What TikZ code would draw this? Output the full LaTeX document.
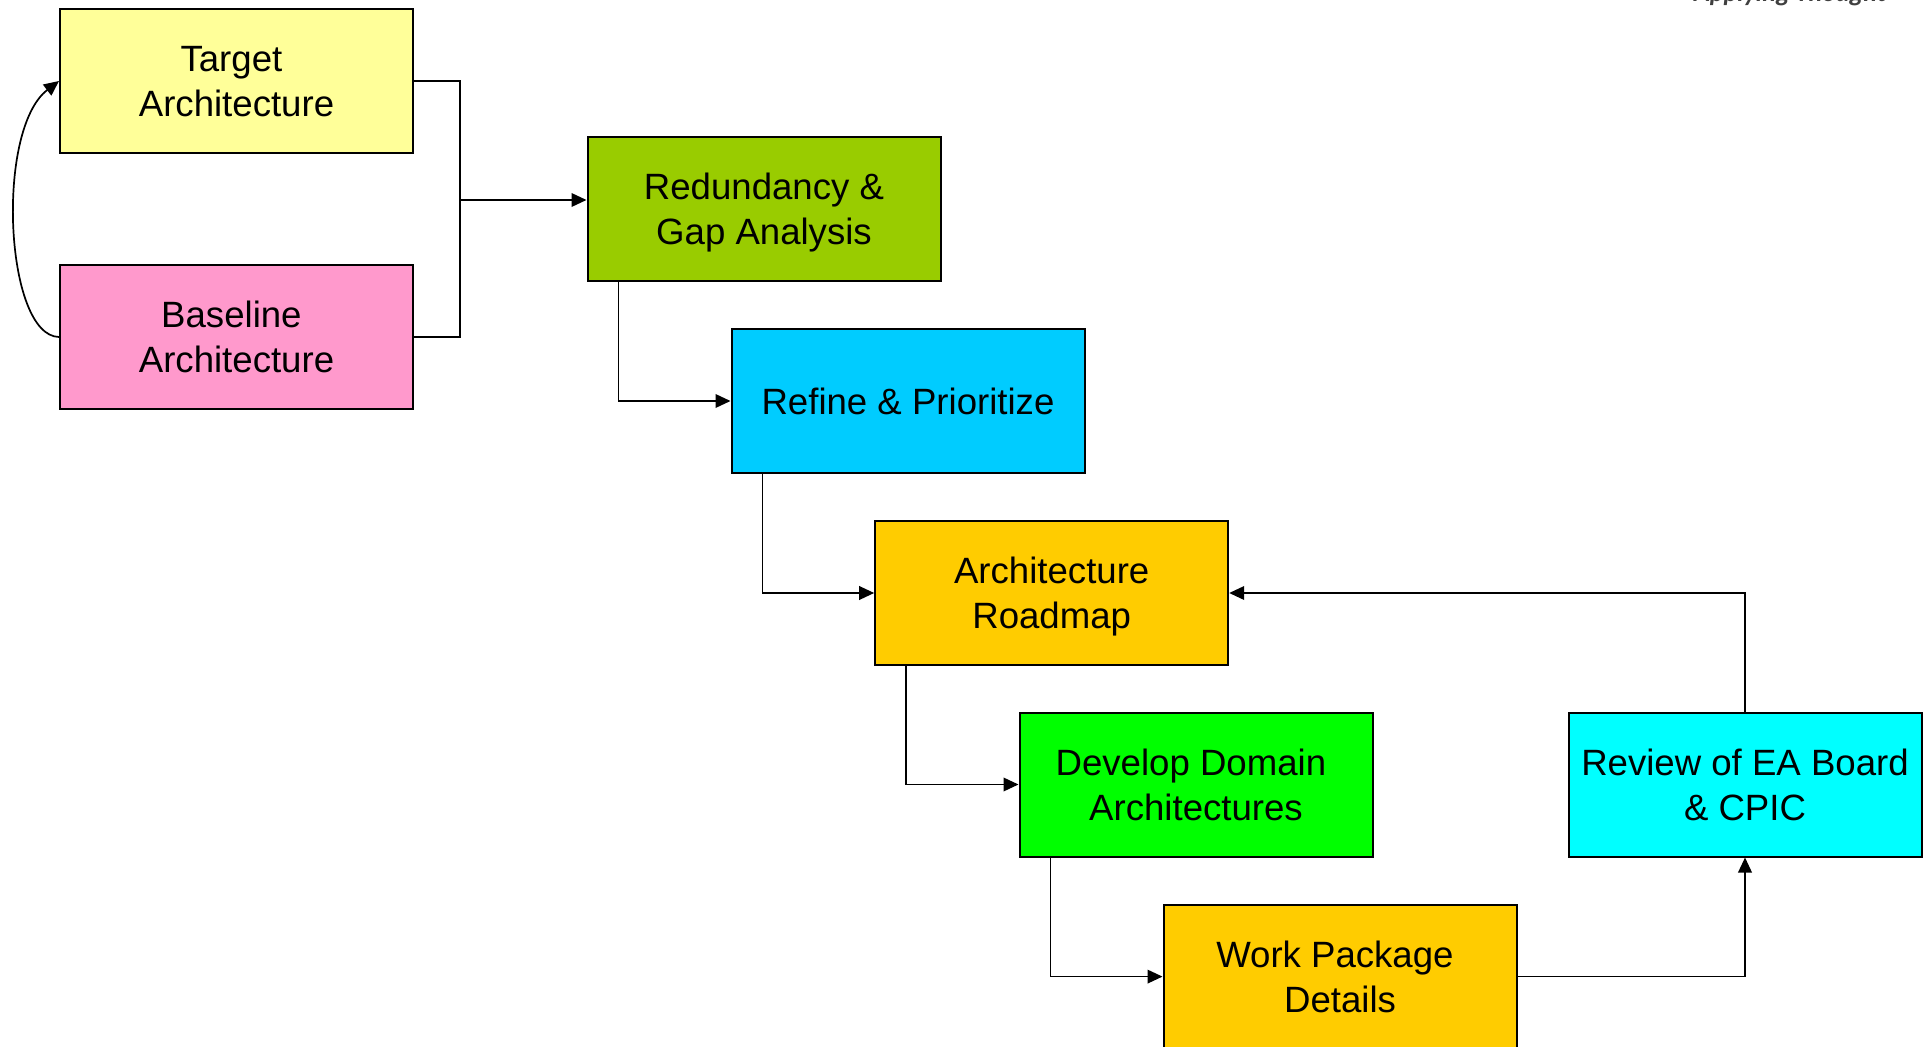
\documentclass[tikz,border=0pt]{standalone}
\usepackage{fontspec}
\setmainfont{Liberation Sans}
\newfontfamily\logofont{Carlito}
\usetikzlibrary{arrows.meta}
\definecolor{cTarget}{HTML}{FFFF99}
\definecolor{cBase}{HTML}{FF99CC}
\definecolor{cGap}{HTML}{99CC00}
\definecolor{cRefine}{HTML}{00CCFF}
\definecolor{cAmber}{HTML}{FFCC00}
\definecolor{cGreen}{HTML}{00FF00}
\definecolor{cCyan}{HTML}{00FFFF}
% a trailing word space that survives the line break
\newcommand{\tsp}{\kern0.278em}
\begin{document}
\begin{tikzpicture}[x=0.5pt,y=-0.5pt,
  stagebox/.style={draw=black, line width=1pt, minimum width=176.5pt, minimum height=72pt,
    inner sep=0pt, text depth=0pt, align=center, font=\fontsize{18.3}{22.5}\selectfont},
  link/.style={draw=black, line width=0.85pt},
  arr/.style={link, -{Triangle[length=7.5pt,width=6.8pt]}}]
\useasboundingbox[fill=white] (0,0) rectangle (1931,1047);

% corner logo text
\node[anchor=base, text=black!75, font=\logofont\bfseries\itshape\fontsize{13}{15}\selectfont] (logo) at (1790,2) {Applying Thought};

% process stages
\node[stagebox, fill=cTarget] (T) at (236.5,81) {Target\tsp\\Architecture};
\node[stagebox, fill=cBase] (B) at (236.5,337) {Baseline\tsp\\Architecture};
\node[stagebox, fill=cGap] (R) at (764,208.7) {Redundancy \&\\Gap Analysis};
\node[stagebox, fill=cRefine] (F) at (908,401) {Refine \& Prioritize};
\node[stagebox, fill=cAmber] (M) at (1051.7,593) {Architecture\\Roadmap};
\node[stagebox, fill=cGreen] (D) at (1196,784.5) {Develop Domain\tsp\\Architectures};
\node[stagebox, fill=cAmber] (W) at (1340,976.6) {Work Package\tsp\\Details};
\node[stagebox, fill=cCyan] (V) at (1745,784.5) {Review of EA Board\\\& CPIC};

% merge of target and baseline into the gap analysis
\coordinate (j) at (460,200);
\draw[link] (T.east) -| (j);
\draw[link] (B.east) -| (j);
\draw[arr] (j) -- (j -| R.west);

% baseline evolves into target
\draw[arr] (B.west) .. controls (5,336) and (-5,130) .. (T.west);

% stepwise cascade
\draw[arr] ([xshift=16pt]R.south west) |- (F.west);
\draw[arr] ([xshift=16pt]F.south west) |- (M.west);
\draw[arr] ([xshift=16pt]M.south west) |- (D.west);
\draw[arr] ([xshift=16pt]D.south west) |- (W.west);

% review loop back to the roadmap
\draw[arr] (W.east) -| (V.south);
\draw[arr] (V.north) |- (M.east);
\end{tikzpicture}
\end{document}
